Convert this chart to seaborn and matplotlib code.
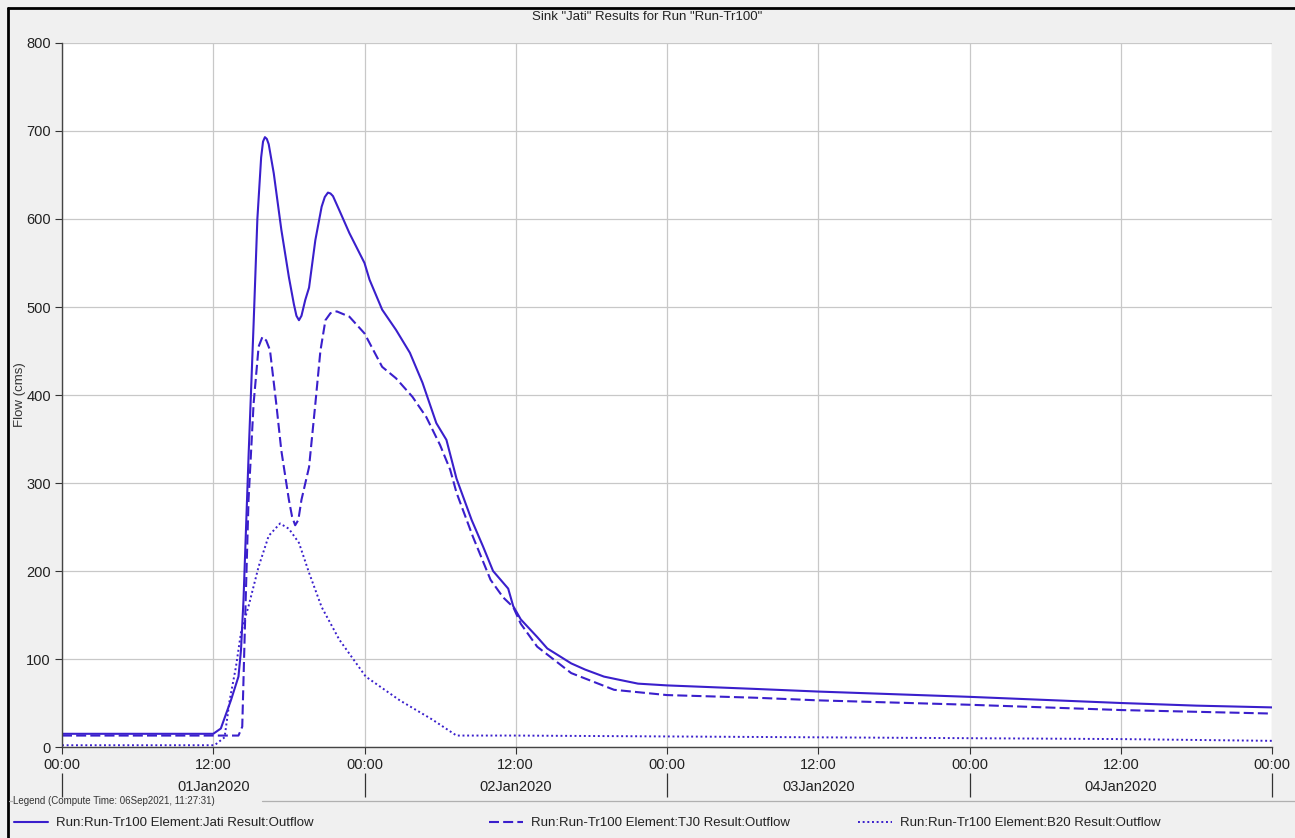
import matplotlib
matplotlib.use("Agg")
import matplotlib.pyplot as plt
import seaborn as sns
from matplotlib.lines import Line2D

# hours since 00:00 01Jan2020, flow in cms
jati_hours = [0, 12.0, 12.6, 13.4, 14.0, 14.2, 14.4, 14.8, 15.2, 15.5, 15.8, 15.95, 16.1, 16.25,
              16.4, 16.8, 17.4, 18.0, 18.4, 18.6, 18.8, 19.0, 19.3, 19.6, 20.1, 20.6, 20.85,
              21.1, 21.3, 21.5, 22.0, 22.8, 24.0, 24.4, 25.4, 26.5, 27.6, 28.6, 29.7, 30.5,
              31.3, 32.5, 33.4, 34.2, 35.4, 35.8, 36.4, 37.7, 38.5, 40.4, 41.5, 43.0, 44.0,
              45.7, 48.0, 55.0, 60.0, 72.0, 84.0, 90.0, 96.0]
jati_flow = [15, 15, 21, 53, 80, 110, 167, 330, 480, 600, 670, 688, 693, 691,
             685, 652, 588, 534, 503, 490, 485, 490, 508, 522, 576, 614, 625,
             630, 629, 626, 610, 584, 550, 531, 497, 474, 448, 414, 368, 349,
             305, 258, 228, 200, 180, 160, 145, 125, 112, 95, 88, 80, 77,
             72, 70, 66, 63, 57, 50, 47, 45]

tj0_hours = [0, 14.0, 14.3, 14.5, 14.8, 15.2, 15.6, 15.9, 16.2, 16.5, 17.0, 17.4, 18.0, 18.25,
             18.5, 18.75, 19.0, 19.6, 20.1, 20.5, 20.9, 21.3, 21.8, 22.8, 24.0, 25.4, 26.5,
             27.8, 28.9, 30.0, 30.8, 31.3, 32.6, 34.0, 35.0, 35.8, 36.4, 37.7, 40.4, 43.8,
             48.0, 55.0, 60.0, 72.0, 84.0, 90.0, 96.0]
tj0_flow = [13, 13, 23, 130, 281, 390, 455, 466, 462, 451, 390, 337, 281, 262,
            252, 258, 281, 318, 390, 450, 485, 493, 495, 489, 470, 432, 419,
            398, 375, 343, 315, 289, 239, 190, 170, 159, 140, 114, 84, 65,
            59, 56, 53, 48, 42, 40, 38]

b20_hours = [0, 12.1, 12.9, 13.3, 13.8, 14.2, 14.8, 15.6, 16.4, 17.3, 18.0, 18.8, 19.6,
             20.6, 22.0, 24.1, 26.8, 29.4, 31.3, 36.0, 48.0, 60.0, 72.0, 84.0, 96.0]
b20_flow = [2, 2, 11, 53, 91, 130, 160, 205, 240, 254, 248, 232, 198,
            159, 122, 80, 53, 31, 13, 13, 12, 11, 10, 9, 7]

series_names = ["Run:Run-Tr100 Element:Jati Result:Outflow",
                "Run:Run-Tr100 Element:TJ0 Result:Outflow",
                "Run:Run-Tr100 Element:B20 Result:Outflow"]

tick_hours = [0, 12, 24, 36, 48, 60, 72, 84, 96]
tick_labels = ["00:00", "12:00", "00:00", "12:00", "00:00", "12:00", "00:00", "12:00", "00:00"]
day_hours = [12, 36, 60, 84]
day_labels = ["01Jan2020", "02Jan2020", "03Jan2020", "04Jan2020"]

line_color = "#3a1fcc"

sns.set_style("whitegrid")
plt.rcParams["font.family"] = ["Liberation Sans", "DejaVu Sans"]

fig = plt.figure(figsize=(12.95, 8.38), dpi=100, facecolor="#f0f0f0")
ax = fig.add_axes([62 / 1295, 1 - 747 / 838, (1272 - 62) / 1295, (747 - 43) / 838])
ax.set_facecolor("white")

sns.lineplot(x=jati_hours, y=jati_flow, ax=ax, color=line_color, lw=1.5, linestyle="-")
sns.lineplot(x=tj0_hours, y=tj0_flow, ax=ax, color=line_color, lw=1.5, linestyle=(0, (4.8, 2)))
sns.lineplot(x=b20_hours, y=b20_flow, ax=ax, color=line_color, lw=1.4, linestyle=(0, (1, 1.4)))

ax.set_xlim(0, 96)
ax.set_ylim(0, 800)
ax.set_xticks(tick_hours)
ax.set_xticklabels(tick_labels)
ax.set_yticks(range(0, 801, 100))
ax.grid(True, color="#c8c8c8", lw=0.9)
ax.tick_params(axis="both", direction="out", length=5, width=0.8, color="#333333",
               labelsize=10.5, labelcolor="#222222", pad=3, bottom=True, left=True)
ax.set_xlabel("")
ax.set_ylabel("Flow (cms)", fontsize=9.5, color="#333333", labelpad=0)
for side in ["top", "right"]:
    ax.spines[side].set_visible(False)
for side in ["left", "bottom"]:
    ax.spines[side].set_color("#444444")
    ax.spines[side].set_linewidth(1.0)

# second row of the time axis: day names and day separators
sec = ax.secondary_xaxis(-26 / 704)
sec.spines["bottom"].set_visible(False)
sec.set_xticks([0, 24, 48, 72, 96])
sec.set_xticklabels([""] * 5)
sec.set_xticks(day_hours, minor=True)
sec.set_xticklabels(day_labels, minor=True)
sec.tick_params(axis="x", which="major", direction="out", length=17, width=0.9, color="#333333")
sec.tick_params(axis="x", which="minor", length=0, pad=5, labelsize=10.5, labelcolor="#222222")

fig.suptitle('Sink "Jati" Results for Run "Run-Tr100"', x=0.5, y=1 - 11 / 838,
             va="top", fontsize=9.5, color="#222222")

# outer frame
fig.add_artist(Line2D([8 / 1295, 8 / 1295], [0, 1 - 8 / 838], transform=fig.transFigure,
                      color="black", lw=2))
fig.add_artist(Line2D([8 / 1295, 1], [1 - 8 / 838, 1 - 8 / 838], transform=fig.transFigure,
                      color="black", lw=2))

# legend panel
sep_y = 1 - 801 / 838
fig.add_artist(Line2D([9 / 1295, 12 / 1295], [sep_y, sep_y], transform=fig.transFigure,
                      color="#b0b0b0", lw=0.9))
fig.add_artist(Line2D([262 / 1295, 1], [sep_y, sep_y], transform=fig.transFigure,
                      color="#b0b0b0", lw=0.9))
fig.text(13 / 1295, sep_y, "Legend (Compute Time: 06Sep2021, 11:27:31)", fontsize=7,
         va="center", ha="left", color="#333333")

handles = ax.get_lines()[:3]
legend_x = [14 / 1295, 489 / 1295, 858 / 1295]
for h, name, lx in zip(handles, series_names, legend_x):
    fig.legend([h], [name], loc="center left", bbox_to_anchor=(lx, 1 - 823 / 838),
               frameon=False, fontsize=9.5, handlelength=2.6, handletextpad=0.6,
               borderaxespad=0, borderpad=0, labelcolor="#222222")

fig.savefig("out.png", dpi=100, facecolor=fig.get_facecolor())
